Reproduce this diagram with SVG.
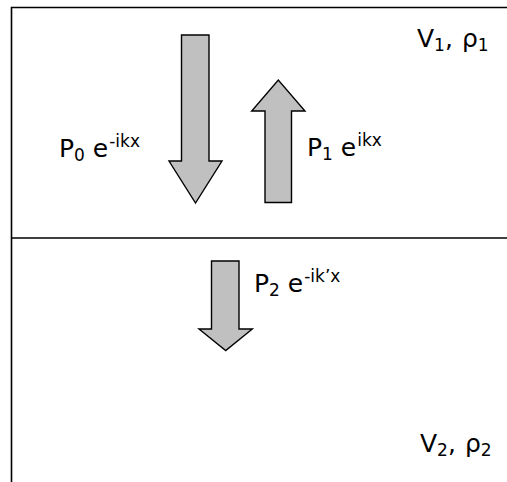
<svg xmlns="http://www.w3.org/2000/svg" width="507" height="482" viewBox="0 0 507 482">
<style>
.ln{stroke:#000;stroke-width:1.6;fill:none}
.ar{fill:#c0c0c0;stroke:#000;stroke-width:1.4;stroke-linejoin:miter}
text{font-family:"DejaVu Sans","Verdana",sans-serif;font-size:25px;fill:#000}
.s{font-size:17px}
</style>
<rect width="507" height="482" fill="#fff"/>
<g id="connectors">
<path class="ln" d="M11.5 482 V7.5 H507"/>
<path class="ln" d="M11.5 238 H507"/>
</g>
<g id="arrow-incident">
<polygon class="ar" points="181.5,35 209,35 209,161 222,161 195.5,203 169,161 181.5,161"/>
</g>
<g id="arrow-reflected">
<polygon class="ar" points="265,202.5 291.5,202.5 291.5,111 305,111 278.3,80 251.7,111 265,111"/>
</g>
<g id="arrow-transmitted">
<polygon class="ar" points="211.5,261 239,261 239,329 252.3,329 225.7,350.5 199,329 211.5,329"/>
</g>
<g id="label-p0"><text x="59" y="157">P<tspan class="s" dy="4">0</tspan><tspan dy="-4"> e</tspan><tspan class="s" dy="-10" dx="1">-ikx</tspan></text></g>
<g id="label-p1"><text x="307" y="156">P<tspan class="s" dy="4">1</tspan><tspan dy="-4"> e</tspan><tspan class="s" dy="-10" dx="1">ikx</tspan></text></g>
<g id="label-p2"><text x="254" y="292">P<tspan class="s" dy="4">2</tspan><tspan dy="-4"> e</tspan><tspan class="s" dy="-10" dx="1">-ik’x</tspan></text></g>
<g id="label-v1"><text x="417" y="47">V<tspan class="s" dy="4">1</tspan><tspan dy="-4">,</tspan><tspan dx="9">ρ</tspan><tspan class="s" dy="4">1</tspan></text></g>
<g id="label-v2"><text x="420" y="452">V<tspan class="s" dy="4">2</tspan><tspan dy="-4">,</tspan><tspan dx="9">ρ</tspan><tspan class="s" dy="4">2</tspan></text></g>
</svg>
